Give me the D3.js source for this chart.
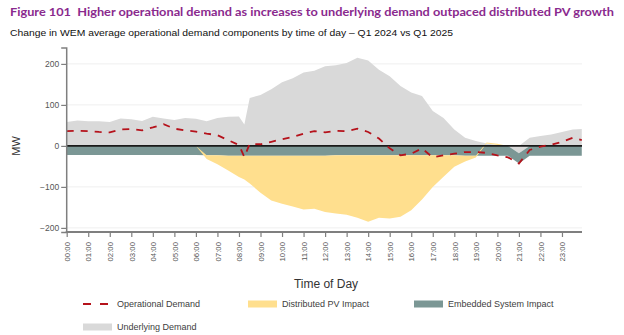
<!DOCTYPE html>
<html><head><meta charset="utf-8">
<script src="https://cdn.jsdelivr.net/npm/d3@7"></script>
<style>html,body{margin:0;padding:0;background:#fff;}svg{display:block;}</style>
</head><body>
<svg id="chart" width="624" height="335"></svg>
<script>
const hours = [0,0.5,1,1.5,2,2.5,3,3.5,4,4.5,5,5.5,6,6.5,7,7.5,8,8.25,8.5,9,9.5,10,10.5,11,11.5,12,12.5,13,13.5,14,14.5,15,15.5,16,16.5,17,17.5,18,18.5,19,19.5,20,20.5,21,21.5,22,22.5,23,23.5,23.92];
const underlyingDemand = [58,62,60,60,58,67,65,61,71,67,63,68,66,60,68,71,72,52,117,124,138,155,165,179,183,194,197,202,215,208,186,170,146,130,122,85,68,40,20,12,6,2,1,-18,20,24,28,34,40,41];
const embeddedImpact = [-22,-22,-22,-22,-22,-22,-22,-22,-22,-22,-22,-22,-22,-23,-23,-24,-24,-24,-24,-24,-24,-24,-24,-24,-24,-24,-23,-23,-23,-23,-23,-23,-23,-23,-23,-23,-23,-23,-24,-24,-24,-24,-24,-25,-24,-24,-24,-24,-24,-24];
const pvImpact = [0,0,0,0,0,0,0,0,0,0,0,0,0,-9,-22,-36,-52,-58,-68,-90,-109,-117,-124,-131,-129,-137,-142,-145,-152,-162,-152,-154,-150,-134,-108,-77,-52,-28,-14,-4,2,3,0,0,0,0,0,0,0,0];
const operationalDemand = [36,37,36,34,33,40,41,38,45,53,42,38,35,30,26,14,2,-27,5,4,10,16,22,30,36,33,37,36,42,34,18,-6,-23,-19,-6,-28,-23,-19,-15,-15,-17,-23,-28,-43,-10,-2,3,10,20,14];
const hourTicks = [0,1,2,3,4,5,6,7,8,9,10,11,12,13,14,15,16,17,18,19,20,21,22,23];
const yTicks = [-200,-100,0,100,200];
const gridTicks = [-200,-100,100,200];

const svg = d3.select("#chart");
const x = d3.scaleLinear().domain([0,24]).range([66.7,583.5]);
const y = d3.scaleLinear().domain([-210,240]).range([232,47.5]);
const plotRight = 582;

const rows = hours.map((h,i)=>({h, underlying: underlyingDemand[i], embedded: embeddedImpact[i], pv: pvImpact[i], op: operationalDemand[i]}));
const keys = ["underlying","embedded","pv"];
const colors = {underlying:"#d9d9d9", embedded:"#7b9795", pv:"#ffdf8e"};
const series = d3.stack().keys(keys).offset(d3.stackOffsetDiverging)(rows);

// grid
svg.append("g").selectAll("line").data(gridTicks).join("line")
  .attr("x1",x(0)).attr("x2",plotRight).attr("y1",d=>y(d)).attr("y2",d=>y(d))
  .attr("stroke","#efefef").attr("stroke-width",1);

const area = d3.area().x(d=>x(d.data.h)).y0(d=>y(d[0])).y1(d=>y(d[1])).curve(d3.curveLinear);
svg.append("g").selectAll("path").data(series).join("path")
  .attr("fill",d=>colors[d.key]).attr("d",area);

// zero line
svg.append("line").attr("x1",x(0)).attr("x2",plotRight).attr("y1",y(0)).attr("y2",y(0))
  .attr("stroke","#1a1a1a").attr("stroke-width",1.6);

// operational demand
const line = d3.line().x(d=>x(d.h)).y(d=>y(d.op));
svg.append("path").datum(rows).attr("d",line).attr("fill","none")
  .attr("stroke","#b5121b").attr("stroke-width",1.8).attr("stroke-dasharray","7,7");

// y axis
const yAxis = svg.append("g").attr("transform",`translate(${x(0)-0.5},0)`)
  .call(d3.axisLeft(y).tickValues(yTicks).tickSize(5).tickPadding(2));
yAxis.select(".domain").attr("stroke","#7f7f7f").attr("stroke-width",1.5);
yAxis.selectAll(".tick line").attr("stroke","#7f7f7f").attr("stroke-width",1.2);
yAxis.selectAll("text").attr("font-family","Liberation Sans, Arial, sans-serif").attr("font-size","8.5px").attr("fill","#555");

// x axis
const xAxis = svg.append("g").attr("transform",`translate(0,${y(-210)})`)
  .call(d3.axisBottom(x).tickValues(hourTicks).tickSize(5).tickSizeOuter(0)
    .tickFormat(h=>String(h).padStart(2,"0")+":00"));
xAxis.select(".domain").attr("stroke","#7f7f7f").attr("stroke-width",2)
  .attr("d",`M${x(0)-1},0H${plotRight}`);
xAxis.selectAll(".tick line").attr("stroke","#7f7f7f").attr("stroke-width",1.2);
xAxis.selectAll("text").attr("font-family","Liberation Sans, Arial, sans-serif").attr("font-size","7.8px").attr("fill","#555")
  .attr("transform","rotate(-90)").attr("text-anchor","end").attr("x",-10).attr("y",0).attr("dy","0.35em");

// axis titles
svg.append("text").attr("x",326).attr("y",288).attr("text-anchor","middle")
  .attr("font-family","Liberation Sans, Arial, sans-serif").attr("font-size","12px").attr("fill","#333").text("Time of Day");
svg.append("text").attr("transform",`translate(20,${y(0)}) rotate(-90)`).attr("text-anchor","middle")
  .attr("font-family","Liberation Sans, Arial, sans-serif").attr("font-size","11px").attr("fill","#333").text("MW");

// titles
svg.append("text").attr("x",10).attr("y",15.5)
  .attr("font-family","Lato, 'Open Sans', sans-serif").attr("font-weight","bold").attr("font-size","12px")
  .attr("fill","#8a2a8e").attr("textLength",604).attr("lengthAdjust","spacingAndGlyphs")
  .style("white-space","pre")
  .text("Figure 101\u00a0\u00a0Higher operational demand as increases to underlying demand outpaced distributed PV growth");
svg.append("text").attr("x",10).attr("y",35.5)
  .attr("font-family","Liberation Sans, Arial, sans-serif").attr("font-size","9px").attr("fill","#111")
  .attr("textLength",443).attr("lengthAdjust","spacingAndGlyphs")
  .text("Change in WEM average operational demand components by time of day – Q1 2024 vs Q1 2025");

// legend
const legendItems = [
  {label:"Operational Demand", type:"dash", color:"#b5121b", x:83, y:304},
  {label:"Distributed PV Impact", type:"rect", color:"#ffdf8e", x:248, y:304},
  {label:"Embedded System Impact", type:"rect", color:"#7b9795", x:414, y:304},
  {label:"Underlying Demand", type:"rect", color:"#d9d9d9", x:83, y:327}
];
const lg = svg.append("g").selectAll("g").data(legendItems).join("g")
  .attr("transform",d=>`translate(${d.x},${d.y})`);
lg.filter(d=>d.type==="rect").append("rect").attr("x",0).attr("y",-3.5).attr("width",29).attr("height",7).attr("fill",d=>d.color);
lg.filter(d=>d.type==="dash").append("line").attr("x1",0).attr("x2",27).attr("y1",0).attr("y2",0)
  .attr("stroke",d=>d.color).attr("stroke-width",1.8).attr("stroke-dasharray","8,9");
lg.append("text").attr("x",34).attr("y",0).attr("dy","0.35em")
  .attr("font-family","Liberation Sans, Arial, sans-serif").attr("font-size","9px").attr("fill","#404040")
  .text(d=>d.label);
</script>
</body></html>
